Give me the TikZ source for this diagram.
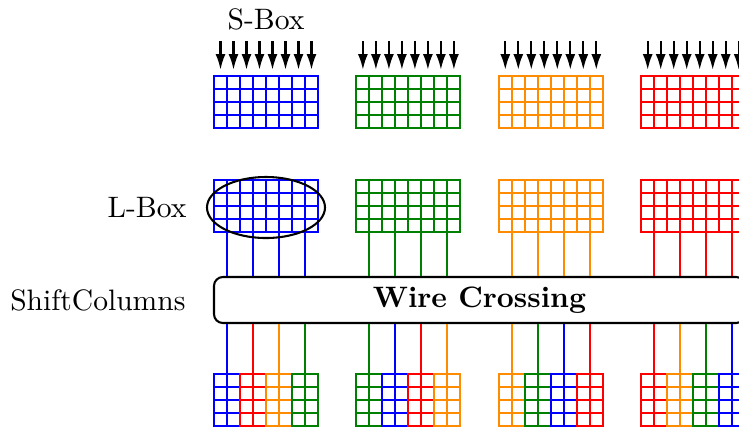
\documentclass[tikz,border=0pt]{standalone}
\usetikzlibrary{arrows.meta}
\definecolor{sborange}{RGB}{255,140,0}
\definecolor{sbgreen}{RGB}{0,128,0}
\begin{document}
\begin{tikzpicture}[x=0.33829pt,y=-0.33829pt,
  gridline/.style={line width=0.7pt,line cap=rect},
  wire/.style={line width=0.7pt},
  inarrow/.style={line width=0.8pt,-{Latex[length=5.4pt,width=3.4pt]}},
  lbl/.style={inner sep=0pt,font=\normalsize}]
\useasboundingbox (0,0) rectangle (739,428);
% labels
\node[lbl] (sbox) at (266,19) {S-Box};
\node[lbl,anchor=east] (lbox) at (187,208) {L-Box};
\node[lbl,anchor=east] (shift) at (186,300) {ShiftColumns};
% wire crossing box
\node[draw,line width=0.7pt,rounded corners=3pt,minimum width={531*0.33829pt},
  minimum height={46*0.33829pt},inner sep=0pt,font=\bfseries] (wc) at (479.5,300) {Wire Crossing};
\def\topcols{{"blue","sbgreen","sborange","red"}}
\def\botcols{{"blue","red","sborange","sbgreen"}}
\foreach \j in {0,1,2,3}{
  \pgfmathsetmacro\xo{214+142.4*\j}
  \pgfmathsetmacro\gc{\topcols[\j]}
  % arrows
  \foreach \i in {0,...,7}{
    \coordinate (a\j\i) at (\xo+6.5+13*\i,41);
    \coordinate (t\j\i) at (\xo+6.5+13*\i,70);
    \draw[inarrow] (a\j\i) -- (t\j\i);
  }
  % S-box grid and L-box grid
  \foreach \yo in {76,180}{
    \foreach \i in {0,...,8}\draw[gridline,\gc] (\xo+13*\i,\yo) -- ++(0,52);
    \foreach \r in {0,...,4}\draw[gridline,\gc] (\xo,\yo+13*\r) -- ++(104,0);
  }
  % wires
  \foreach \k in {0,1,2,3}{
    \pgfmathsetmacro\bc{\botcols[mod(\k-\j+4,4)]}
    \coordinate (m\j\k) at (\xo+13+26*\k,232);
    \coordinate (b\j\k) at (\xo+13+26*\k,374);
    \draw[wire,\gc] (m\j\k) -- (m\j\k |- wc.north);
    \draw[wire,\bc] (b\j\k |- wc.south) -- (b\j\k);
    % bottom subgrid
    \foreach \i in {0,1,2}\draw[gridline,\bc] (\xo+26*\k+13*\i,374) -- ++(0,52);
    \foreach \r in {0,...,4}\draw[gridline,\bc] (\xo+26*\k,374+13*\r) -- ++(26,0);
  }
}
% ellipse around first L-box
\draw[line width=0.7pt] (266,207.5) ellipse [x radius=59,y radius=30.5];
\end{tikzpicture}
\end{document}
